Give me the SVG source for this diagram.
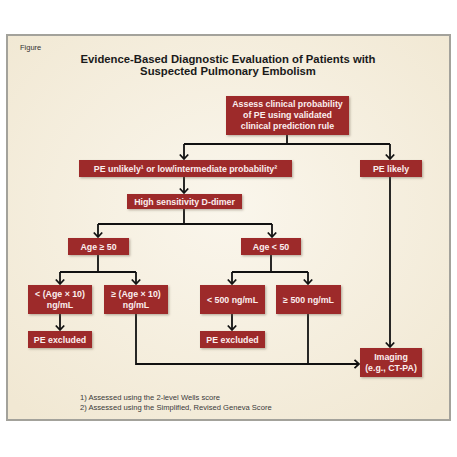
<svg xmlns="http://www.w3.org/2000/svg" width="457" height="457" viewBox="0 0 457 457">
<defs>
<style>
.box{fill:#9d2a2c;filter:url(#sh)}
.bt{font-family:"Liberation Sans",Arial,sans-serif;font-weight:bold;font-size:8.8px;fill:#fbeeee;text-anchor:middle}
.c{fill:none;stroke:#111;stroke-width:1.8}
.a{marker-end:url(#ar)}
.fn{font-family:"Liberation Sans",Arial,sans-serif;font-size:7.6px;fill:#3a3a3a}
</style>
<radialGradient id="bg" cx="0.5" cy="0.45" r="0.7">
<stop offset="0" stop-color="#faf6ec"/>
<stop offset="1" stop-color="#f1e8d3"/>
</radialGradient>
<filter id="sh" x="-10%" y="-20%" width="125%" height="150%">
<feDropShadow dx="1.2" dy="1.2" stdDeviation="0.9" flood-color="#6b5a4a" flood-opacity="0.45"/>
</filter>
<marker id="ar" markerUnits="userSpaceOnUse" markerWidth="12" markerHeight="12" viewBox="0 0 12 12" refX="6" refY="6" orient="auto">
<path d="M1.5,1.8 L6,6 L1.5,10.2" fill="none" stroke="#111" stroke-width="1.8"/>
</marker>
</defs>
<rect width="457" height="457" fill="#ffffff"/>
<rect x="7" y="35" width="443" height="385" fill="url(#bg)" stroke="#a3a29b" stroke-width="2"/>
<text x="20" y="50" font-family="Liberation Sans,Arial,sans-serif" font-size="7.5" fill="#333">Figure</text>
<g font-family="Liberation Sans,Arial,sans-serif" font-weight="bold" font-size="11.3" fill="#1a1a1a" text-anchor="middle">
<text x="228" y="63">Evidence-Based Diagnostic Evaluation of Patients with</text>
<text x="228" y="75">Suspected Pulmonary Embolism</text>
</g>
<g id="connectors">
<path class="c" d="M287,135 V144"/>
<path class="c" d="M184,144 H390"/>
<path class="c a" d="M184,144 V159"/>
<path class="c a" d="M390,144 V159"/>
<path class="c a" d="M184,177 V193"/>
<path class="c" d="M184,209 V224"/>
<path class="c" d="M98,224 H272"/>
<path class="c a" d="M98,224 V237"/>
<path class="c a" d="M272,224 V237"/>
<path class="c" d="M98,255 V272"/>
<path class="c" d="M60,272 H136"/>
<path class="c a" d="M60,272 V284"/>
<path class="c a" d="M136,272 V284"/>
<path class="c" d="M271,255 V272"/>
<path class="c" d="M232,272 H308"/>
<path class="c a" d="M232,272 V284"/>
<path class="c a" d="M308,272 V284"/>
<path class="c a" d="M60,314 V330"/>
<path class="c a" d="M232,314 V330"/>
<path class="c a" d="M136,314 V364 H359"/>
<path class="c" d="M308,314 V364"/>
<path class="c a" d="M390,177 V347"/>
</g>
<g id="n-assess"><rect class="box" x="226" y="96" width="123" height="39"/>
<text class="bt" x="287.5" y="107">Assess clinical probability</text>
<text class="bt" x="287.5" y="118">of PE using validated</text>
<text class="bt" x="287.5" y="129">clinical prediction rule</text></g>
<g id="n-unlikely"><rect class="box" x="79" y="160" width="213" height="17"/>
<text class="bt" x="185.5" y="171.5">PE unlikely¹ or low/intermediate probability²</text></g>
<g id="n-likely"><rect class="box" x="360" y="160" width="62" height="17"/>
<text class="bt" x="391" y="171.5">PE likely</text></g>
<g id="n-ddimer"><rect class="box" x="127" y="194" width="115" height="15"/>
<text class="bt" x="184.5" y="204.5">High sensitivity D-dimer</text></g>
<g id="n-age50plus"><rect class="box" x="68" y="238" width="61" height="17"/>
<text class="bt" x="98.5" y="249.5">Age ≥ 50</text></g>
<g id="n-age50minus"><rect class="box" x="241" y="238" width="60" height="17"/>
<text class="bt" x="271" y="249.5">Age &lt; 50</text></g>
<g id="n-agelt"><rect class="box" x="28" y="285" width="64" height="29"/>
<text class="bt" x="60" y="297">&lt; (Age × 10)</text>
<text class="bt" x="60" y="307.5">ng/mL</text></g>
<g id="n-agege"><rect class="box" x="104" y="285" width="64" height="29"/>
<text class="bt" x="136" y="297">≥ (Age × 10)</text>
<text class="bt" x="136" y="307.5">ng/mL</text></g>
<g id="n-lt500"><rect class="box" x="200" y="285" width="65" height="29"/>
<text class="bt" x="232.5" y="302.5">&lt; 500 ng/mL</text></g>
<g id="n-ge500"><rect class="box" x="276" y="285" width="65" height="29"/>
<text class="bt" x="308.5" y="302.5">≥ 500 ng/mL</text></g>
<g id="n-excl1"><rect class="box" x="28" y="331" width="64" height="17"/>
<text class="bt" x="60" y="342.5">PE excluded</text></g>
<g id="n-excl2"><rect class="box" x="200" y="331" width="65" height="17"/>
<text class="bt" x="232.5" y="342.5">PE excluded</text></g>
<g id="n-imaging"><rect class="box" x="360" y="348" width="62" height="29"/>
<text class="bt" x="391" y="360">Imaging</text>
<text class="bt" x="391" y="370.5">(e.g., CT-PA)</text></g>
<text class="fn" x="80" y="400">1) Assessed using the 2-level Wells score</text>
<text class="fn" x="80" y="410">2) Assessed using the Simplified, Revised Geneva Score</text>
</svg>
